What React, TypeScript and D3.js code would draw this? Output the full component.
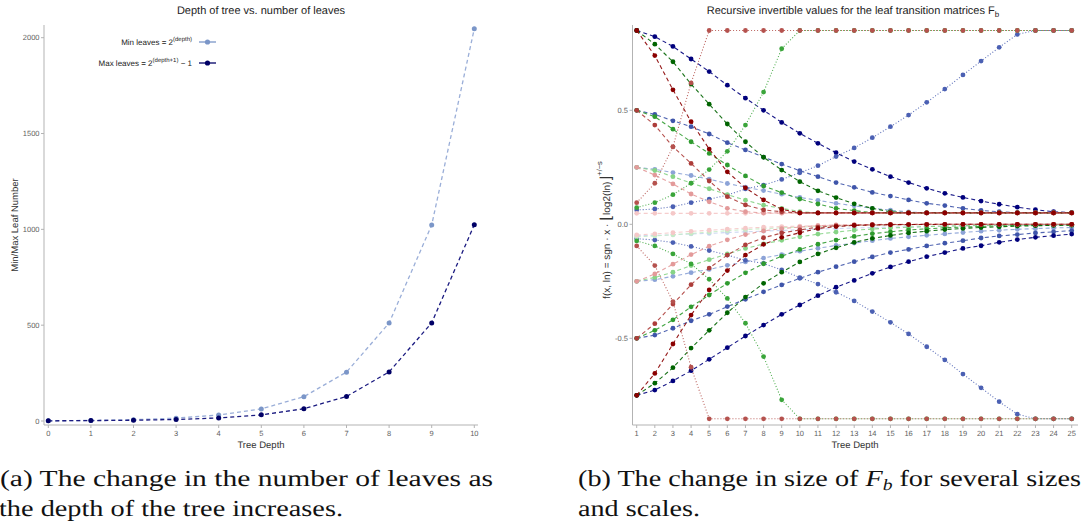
import React from "react";
import * as d3 from "d3";

// ---------- Left chart data ----------
const leftDepth = [0, 1, 2, 3, 4, 5, 6, 7, 8, 9, 10];
const lightLeaves = [1, 3, 7, 15, 31, 63, 127, 255, 511, 1023, 2047];
const darkLeaves = [1, 2, 4, 8, 16, 32, 64, 128, 256, 512, 1024];
const leftYTicks = [0, 500, 1000, 1500, 2000];

// ---------- Right chart data ----------
const rDepth = [1, 2, 3, 4, 5, 6, 7, 8, 9, 10, 11, 12, 13, 14, 15, 16, 17, 18, 19, 20, 21, 22, 23, 24, 25];
const rightYTicks = [-0.5, 0, 0.5];
const rightYLabels = ["-0.5", "0.0", "0.5"];

const navyTop = [0.85, 0.823, 0.78, 0.725, 0.67, 0.61, 0.553, 0.5, 0.447, 0.399, 0.355, 0.314, 0.275, 0.241, 0.209, 0.183, 0.158, 0.136, 0.118, 0.102, 0.088, 0.075, 0.064, 0.055, 0.051];
const blueTop = [0.5, 0.482, 0.454, 0.428, 0.396, 0.358, 0.326, 0.295, 0.264, 0.235, 0.209, 0.183, 0.162, 0.14, 0.124, 0.107, 0.092, 0.082, 0.07, 0.061, 0.055, 0.051, 0.05, 0.05, 0.05];
const lightBlueTop = [0.25, 0.241, 0.227, 0.214, 0.198, 0.179, 0.163, 0.148, 0.132, 0.118, 0.105, 0.092, 0.081, 0.07, 0.062, 0.054, 0.05, 0.05, 0.05, 0.05, 0.05, 0.05, 0.05, 0.05, 0.05];
const blueDotTop = [0.063, 0.067, 0.077, 0.095, 0.11, 0.128, 0.155, 0.172, 0.197, 0.226, 0.257, 0.297, 0.335, 0.38, 0.428, 0.479, 0.535, 0.593, 0.655, 0.716, 0.776, 0.833, 0.85, 0.85, 0.85];

const greenDarkTop = [0.85, 0.79, 0.713, 0.615, 0.527, 0.44, 0.362, 0.294, 0.238, 0.187, 0.147, 0.117, 0.09, 0.07, 0.055, 0.05, 0.05, 0.05, 0.05, 0.05, 0.05, 0.05, 0.05, 0.05, 0.05];
const greenTop = [0.5, 0.472, 0.417, 0.362, 0.311, 0.26, 0.212, 0.168, 0.139, 0.111, 0.089, 0.07, 0.06, 0.051, 0.05, 0.05, 0.05, 0.05, 0.05, 0.05, 0.05, 0.05, 0.05, 0.05, 0.05];
const lightGreenTop = [0.25, 0.236, 0.209, 0.181, 0.156, 0.13, 0.106, 0.084, 0.07, 0.056, 0.05, 0.05, 0.05, 0.05, 0.05, 0.05, 0.05, 0.05, 0.05, 0.05, 0.05, 0.05, 0.05, 0.05, 0.05];
const greenDotTop = [0.073, 0.095, 0.13, 0.18, 0.24, 0.32, 0.435, 0.58, 0.77, 0.85, 0.85, 0.85, 0.85, 0.85, 0.85, 0.85, 0.85, 0.85, 0.85, 0.85, 0.85, 0.85, 0.85, 0.85, 0.85];

const redDarkTop = [0.85, 0.74, 0.59, 0.45, 0.33, 0.23, 0.16, 0.107, 0.066, 0.05, 0.05, 0.05, 0.05, 0.05, 0.05, 0.05, 0.05, 0.05, 0.05, 0.05, 0.05, 0.05, 0.05, 0.05, 0.05];
const redTop = [0.5, 0.435, 0.34, 0.267, 0.19, 0.121, 0.085, 0.063, 0.055, 0.05, 0.05, 0.05, 0.05, 0.05, 0.05, 0.05, 0.05, 0.05, 0.05, 0.05, 0.05, 0.05, 0.05, 0.05, 0.05];
const pinkTop = [0.25, 0.216, 0.177, 0.133, 0.099, 0.07, 0.055, 0.05, 0.05, 0.05, 0.05, 0.05, 0.05, 0.05, 0.05, 0.05, 0.05, 0.05, 0.05, 0.05, 0.05, 0.05, 0.05, 0.05, 0.05];
const palePinkTop = [0.048, 0.048, 0.048, 0.048, 0.048, 0.048, 0.048, 0.048, 0.048, 0.048, 0.048, 0.048, 0.048, 0.048, 0.048, 0.048, 0.048, 0.048, 0.048, 0.048, 0.048, 0.048, 0.048, 0.048, 0.048];
const redDotTop = [0.095, 0.18, 0.34, 0.62, 0.85, 0.85, 0.85, 0.85, 0.85, 0.85, 0.85, 0.85, 0.85, 0.85, 0.85, 0.85, 0.85, 0.85, 0.85, 0.85, 0.85, 0.85, 0.85, 0.85, 0.85];

const navyBot = [-0.75, -0.727, -0.687, -0.642, -0.592, -0.541, -0.49, -0.442, -0.395, -0.354, -0.313, -0.276, -0.246, -0.215, -0.187, -0.164, -0.142, -0.124, -0.106, -0.094, -0.079, -0.067, -0.057, -0.05, -0.043];
const blueBot = [-0.5, -0.486, -0.456, -0.423, -0.395, -0.361, -0.329, -0.296, -0.266, -0.237, -0.21, -0.186, -0.164, -0.143, -0.124, -0.11, -0.095, -0.083, -0.072, -0.06, -0.051, -0.045, -0.038, -0.033, -0.028];
const lightBlueBot = [-0.25, -0.243, -0.228, -0.212, -0.198, -0.18, -0.165, -0.148, -0.133, -0.118, -0.105, -0.093, -0.082, -0.072, -0.062, -0.055, -0.048, -0.042, -0.036, -0.03, -0.026, -0.022, -0.019, -0.016, -0.014];
const paleBlueBot = [-0.05, -0.049, -0.046, -0.042, -0.04, -0.036, -0.033, -0.03, -0.027, -0.024, -0.021, -0.019, -0.016, -0.014, -0.012, -0.011, -0.01, -0.008, -0.007, -0.006, -0.005, -0.004, -0.004, -0.003, -0.003];
const blueDotBot = [-0.063, -0.069, -0.08, -0.097, -0.115, -0.135, -0.158, -0.172, -0.2, -0.234, -0.262, -0.298, -0.336, -0.383, -0.43, -0.481, -0.537, -0.595, -0.657, -0.717, -0.778, -0.833, -0.853, -0.853, -0.853];

const greenDarkBot = [-0.75, -0.697, -0.629, -0.543, -0.465, -0.388, -0.319, -0.259, -0.21, -0.165, -0.13, -0.103, -0.079, -0.062, -0.049, -0.038, -0.03, -0.023, -0.018, -0.014, -0.011, -0.008, -0.006, -0.005, -0.004];
const greenBot = [-0.5, -0.465, -0.419, -0.362, -0.31, -0.259, -0.213, -0.173, -0.14, -0.11, -0.087, -0.069, -0.053, -0.041, -0.033, -0.025, -0.02, -0.015, -0.012, -0.009, -0.007, -0.005, -0.004, -0.003, -0.003];
const lightGreenBot = [-0.25, -0.233, -0.21, -0.181, -0.155, -0.13, -0.106, -0.086, -0.07, -0.055, -0.043, -0.034, -0.026, -0.021, -0.016, -0.013, -0.01, -0.008, -0.006, -0.005, -0.004, -0.003, -0.002, -0.002, -0.001];
const paleGreenBot = [-0.055, -0.051, -0.046, -0.04, -0.034, -0.028, -0.023, -0.019, -0.015, -0.012, -0.009, -0.007, -0.005, -0.004, -0.003, -0.003, -0.002, -0.002, -0.001, -0.001, -0.001, -0.001, 0, 0, 0];
const greenDotBot = [-0.073, -0.095, -0.13, -0.174, -0.241, -0.325, -0.434, -0.58, -0.77, -0.853, -0.853, -0.853, -0.853, -0.853, -0.853, -0.853, -0.853, -0.853, -0.853, -0.853, -0.853, -0.853, -0.853, -0.853, -0.853];

const redDarkBot = [-0.75, -0.654, -0.525, -0.398, -0.288, -0.203, -0.135, -0.088, -0.057, -0.037, -0.018, -0.01, -0.005, -0.003, -0.002, -0.001, -0.001, 0, 0, 0, 0, 0, 0, 0, 0];
const redBot = [-0.5, -0.436, -0.35, -0.265, -0.192, -0.135, -0.09, -0.059, -0.038, -0.025, -0.012, -0.007, -0.004, -0.002, -0.001, -0.001, 0, 0, 0, 0, 0, 0, 0, 0, 0];
const pinkBot = [-0.25, -0.218, -0.175, -0.133, -0.096, -0.068, -0.045, -0.029, -0.019, -0.012, -0.006, -0.003, -0.002, -0.001, 0, 0, 0, 0, 0, 0, 0, 0, 0, 0, 0];
const palePinkBot = [-0.047, -0.042, -0.037, -0.031, -0.026, -0.021, -0.017, -0.013, -0.01, -0.008, -0.006, -0.004, -0.003, -0.002, -0.001, -0.001, 0, 0, 0, 0, 0, 0, 0, 0, 0];
const redDotBot = [-0.095, -0.181, -0.339, -0.627, -0.853, -0.853, -0.853, -0.853, -0.853, -0.853, -0.853, -0.853, -0.853, -0.853, -0.853, -0.853, -0.853, -0.853, -0.853, -0.853, -0.853, -0.853, -0.853, -0.853, -0.853];

// styles (kept apart from the data)
const C = {
  navy: "#00007c", blue: "#3f55aa", lightBlue: "#8ca3d7", paleBlue: "#c6d3ef", blueDot: "#4b60b3",
  dkGreen: "#006400", green: "#2f9b2f", lightGreen: "#86d486", paleGreen: "#c4ecc4", greenDot: "#3aa53a",
  dkRed: "#8b0000", red: "#ad3d3a", pink: "#e39a9a", palePink: "#f5c8c8", redDot: "#b5524e",
};
const DASH = "4,3";
const DOT = "1,2";

const rightSeries = [
  { v: paleBlueBot, c: C.paleBlue, d: DASH },
  { v: lightBlueTop, c: C.lightBlue, d: DASH },
  { v: lightBlueBot, c: C.lightBlue, d: DASH },
  { v: blueTop, c: C.blue, d: DASH },
  { v: blueBot, c: C.blue, d: DASH },
  { v: navyTop, c: C.navy, d: DASH },
  { v: navyBot, c: C.navy, d: DASH },
  { v: blueDotTop, c: C.blueDot, d: DOT },
  { v: blueDotBot, c: C.blueDot, d: DOT },
  { v: paleGreenBot, c: C.paleGreen, d: DASH },
  { v: lightGreenTop, c: C.lightGreen, d: DASH },
  { v: lightGreenBot, c: C.lightGreen, d: DASH },
  { v: greenTop, c: C.green, d: DASH },
  { v: greenBot, c: C.green, d: DASH },
  { v: greenDarkTop, c: C.dkGreen, d: DASH },
  { v: greenDarkBot, c: C.dkGreen, d: DASH },
  { v: greenDotTop, c: C.greenDot, d: DOT },
  { v: greenDotBot, c: C.greenDot, d: DOT },
  { v: palePinkTop, c: C.palePink, d: DASH },
  { v: palePinkBot, c: C.palePink, d: DASH },
  { v: pinkTop, c: C.pink, d: DASH },
  { v: pinkBot, c: C.pink, d: DASH },
  { v: redTop, c: C.red, d: DASH },
  { v: redBot, c: C.red, d: DASH },
  { v: redDarkTop, c: C.dkRed, d: DASH },
  { v: redDarkBot, c: C.dkRed, d: DASH },
  { v: redDotTop, c: C.redDot, d: DOT },
  { v: redDotBot, c: C.redDot, d: DOT },
];

const SANS = "'Liberation Sans', Arial, sans-serif";
const SERIF = "'Liberation Serif', 'Times New Roman', serif";
const AXIS = "#b3b3b3";
const TICKTXT = "#5e5e5e";

export default function App() {
  // left scales
  const lx = d3.scaleLinear().domain([0, 10]).range([48.3, 474.3]);
  const ly = d3.scaleLinear().domain([0, 2000]).range([421, 37.7]);
  const lLine = (vals: number[]) =>
    d3.line<number>().x((_, i) => lx(leftDepth[i])).y((v) => ly(v))(vals) || "";

  // right scales
  const rx = d3.scaleLinear().domain([1, 25]).range([636.7, 1071.7]);
  const ry = d3.scaleLinear().domain([-0.5, 0.5]).range([338.3, 110.3]);
  const rLine = (vals: number[]) =>
    d3.line<number>().x((_, i) => rx(rDepth[i])).y((v) => ry(v))(vals) || "";

  const lightCol = "#7b96c8";
  const darkCol = "#000066";
  const cap = { fontFamily: SERIF, fontSize: 23, fill: "#111", lengthAdjust: "spacingAndGlyphs" } as any;

  return (
    <svg
      width={1083}
      height={524}
      style={{ position: "absolute", left: 0, top: 0, background: "#fff" }}
      textRendering="geometricPrecision"
    >
      <rect x={0} y={0} width={1083} height={524} fill="#fff" />

      {/* ================= LEFT CHART ================= */}
      <text x={261} y={14} textAnchor="middle" fontFamily={SANS} fontSize={11} fill="#222">
        Depth of tree vs. number of leaves
      </text>
      <line x1={44} y1={25} x2={44} y2={425} stroke={AXIS} strokeWidth={1} />
      <line x1={44} y1={425} x2={478} y2={425} stroke={AXIS} strokeWidth={1} />
      {leftYTicks.map((t) => (
        <g key={"ly" + t}>
          <line x1={41} x2={44} y1={ly(t)} y2={ly(t)} stroke={AXIS} />
          <text x={39.5} y={ly(t)} dy="0.35em" textAnchor="end" fontFamily={SANS} fontSize={7.5} fill={TICKTXT}>
            {t}
          </text>
        </g>
      ))}
      {leftDepth.map((t) => (
        <g key={"lx" + t}>
          <line x1={lx(t)} x2={lx(t)} y1={425} y2={428} stroke={AXIS} />
          <text x={lx(t)} y={436} textAnchor="middle" fontFamily={SANS} fontSize={7.5} fill={TICKTXT}>
            {t}
          </text>
        </g>
      ))}
      <text x={261} y={448} textAnchor="middle" fontFamily={SANS} fontSize={9.5} fill="#333">
        Tree Depth
      </text>
      <text transform="translate(17.5,225) rotate(-90)" textAnchor="middle" fontFamily={SANS} fontSize={9.5} fill="#333">
        Min/Max Leaf Number
      </text>
      <path d={lLine(lightLeaves)} fill="none" stroke="#9aaed8" strokeWidth={1.3} strokeDasharray="4,3" />
      <path d={lLine(darkLeaves)} fill="none" stroke="#1a1a80" strokeWidth={1.3} strokeDasharray="4,3" />
      {lightLeaves.map((v, i) => (
        <circle key={"ll" + i} cx={lx(leftDepth[i])} cy={ly(v)} r={2.5} fill={lightCol} />
      ))}
      {darkLeaves.map((v, i) => (
        <circle key={"dl" + i} cx={lx(leftDepth[i])} cy={ly(v)} r={2.5} fill={darkCol} />
      ))}
      {/* legend */}
      <text x={192} y={45} textAnchor="end" fontFamily={SANS} fontSize={8} fill="#222">
        Min leaves  = 2<tspan dy={-3.8} fontSize={6}>(depth)</tspan>
      </text>
      <line x1={199} x2={216} y1={42} y2={42} stroke={lightCol} strokeWidth={1.3} />
      <circle cx={207.5} cy={42} r={2.6} fill={lightCol} />
      <text x={192} y={66} textAnchor="end" fontFamily={SANS} fontSize={8} fill="#222">
        Max leaves  = 2<tspan dy={-3.8} fontSize={6}>(depth+1)</tspan>
        <tspan dy={3.8}> − 1</tspan>
      </text>
      <line x1={199} x2={216} y1={63} y2={63} stroke={darkCol} strokeWidth={1.3} />
      <circle cx={207.5} cy={63} r={2.6} fill={darkCol} />

      {/* ================= RIGHT CHART ================= */}
      <text x={853} y={14} textAnchor="middle" fontFamily={SANS} fontSize={11} fill="#222">
        Recursive invertible values for the leaf transition matrices F
        <tspan dy={3} fontSize={8}>b</tspan>
      </text>
      <line x1={632.5} y1={25} x2={632.5} y2={425} stroke={AXIS} strokeWidth={1} />
      <line x1={632.5} y1={425} x2={1078} y2={425} stroke={AXIS} strokeWidth={1} />
      {rightYTicks.map((t, i) => (
        <g key={"ry" + t}>
          <line x1={629.5} x2={632.5} y1={ry(t)} y2={ry(t)} stroke={AXIS} />
          <text x={628} y={ry(t)} dy="0.35em" textAnchor="end" fontFamily={SANS} fontSize={7.5} fill={TICKTXT}>
            {rightYLabels[i]}
          </text>
        </g>
      ))}
      {rDepth.map((t) => (
        <g key={"rx" + t}>
          <line x1={rx(t)} x2={rx(t)} y1={425} y2={428} stroke={AXIS} />
          <text x={rx(t)} y={436} textAnchor="middle" fontFamily={SANS} fontSize={7.5} fill={TICKTXT}>
            {t}
          </text>
        </g>
      ))}
      <text x={855} y={448} textAnchor="middle" fontFamily={SANS} fontSize={9.5} fill="#333">
        Tree Depth
      </text>
      <text transform="translate(609.5,230) rotate(-90)" textAnchor="middle" fontFamily={SANS} fontSize={10} fill="#333">
        f(x, ln) = sgn · x · <tspan fontSize={15} dy={1.5}>⌊</tspan>
        <tspan dy={-1.5}>log2(ln)</tspan>
        <tspan fontSize={15} dy={1.5}>⌋</tspan>
        <tspan fontSize={7.5} dy={-9.5}>+/−s</tspan>
      </text>
      {rightSeries.map((s, k) => (
        <g key={"s" + k}>
          <path d={rLine(s.v)} fill="none" stroke={s.c} strokeWidth={1.1} strokeDasharray={s.d} opacity={0.9} />
          {s.v.map((v, i) => (
            <circle key={i} cx={rx(rDepth[i])} cy={ry(v)} r={2.4} fill={s.c} />
          ))}
        </g>
      ))}

      {/* ================= CAPTIONS ================= */}
      <text x={0} y={486} {...cap} textLength={493}>
        (a) The change in the number of leaves as
      </text>
      <text x={-1} y={516} {...cap} textLength={344}>
        the depth of the tree increases.
      </text>
      <text x={578} y={486} {...cap} textLength={503}>
        (b) The change in size of{" "}
        <tspan fontStyle="italic">F</tspan>
        <tspan fontStyle="italic" fontSize={16} dy={4}>b</tspan>
        <tspan dy={-4}> for several sizes</tspan>
      </text>
      <text x={578} y={516} {...cap} textLength={122}>
        and scales.
      </text>
    </svg>
  );
}
